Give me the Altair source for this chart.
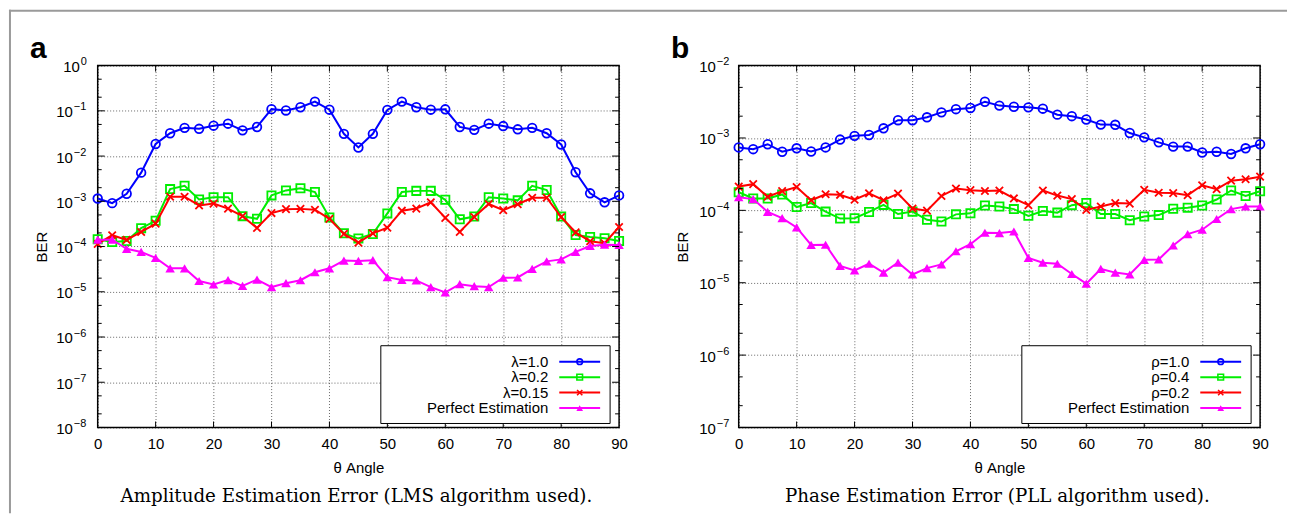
import altair as alt
import pandas as pd

# ---------------- data ----------------
angles = [0, 2.5, 5, 7.5, 10, 12.5, 15, 17.5, 20, 22.5, 25, 27.5, 30, 32.5, 35, 37.5,
          40, 42.5, 45, 47.5, 50, 52.5, 55, 57.5, 60, 62.5, 65, 67.5, 70, 72.5, 75, 77.5,
          80, 82.5, 85, 87.5, 90]

# panel a : amplitude estimation error
lam_10 = [1.15e-3, 9.1e-4, 1.47e-3, 4.3e-3, 1.85e-2, 3.2e-2, 4.2e-2, 4.0e-2, 4.7e-2, 5.2e-2,
          3.7e-2, 4.4e-2, 1.09e-1, 1.02e-1, 1.2e-1, 1.6e-1, 1.06e-1, 3.1e-2, 1.55e-2, 3.1e-2,
          1.05e-1, 1.6e-1, 1.2e-1, 1.06e-1, 1.08e-1, 4.4e-2, 3.8e-2, 5.2e-2, 4.6e-2, 3.9e-2,
          4.2e-2, 3.2e-2, 1.8e-2, 4.4e-3, 1.5e-3, 9.5e-4, 1.35e-3]
lam_02 = [1.45e-4, 1.26e-4, 1.33e-4, 2.55e-4, 3.7e-4, 1.86e-3, 2.2e-3, 1.1e-3, 1.23e-3, 1.23e-3,
          4.7e-4, 4.1e-4, 1.35e-3, 1.74e-3, 1.95e-3, 1.6e-3, 4.4e-4, 1.96e-4, 1.5e-4, 1.9e-4,
          5.4e-4, 1.6e-3, 1.7e-3, 1.7e-3, 1.08e-3, 4.0e-4, 4.6e-4, 1.23e-3, 1.15e-3, 1.05e-3,
          2.2e-3, 1.77e-3, 4.6e-4, 1.8e-4, 1.62e-4, 1.52e-4, 1.33e-4]
lam_015 = [1.14e-4, 1.78e-4, 1.4e-4, 2.1e-4, 3.2e-4, 1.26e-3, 1.26e-3, 8.1e-4, 8.9e-4, 6.9e-4,
           4.7e-4, 2.57e-4, 5.5e-4, 6.7e-4, 6.8e-4, 6.5e-4, 4.1e-4, 1.9e-4, 1.22e-4, 1.95e-4,
           2.6e-4, 6.2e-4, 6.9e-4, 9.5e-4, 4.3e-4, 2.1e-4, 4.5e-4, 8.7e-4, 6.4e-4, 8.6e-4,
           1.2e-3, 1.2e-3, 4.5e-4, 2.05e-4, 1.31e-4, 1.18e-4, 2.7e-4]
perfect_a = [1.42e-4, 1.42e-4, 8.9e-5, 7.6e-5, 5.6e-5, 3.3e-5, 3.3e-5, 1.73e-5, 1.45e-5, 1.81e-5,
             1.35e-5, 1.86e-5, 1.27e-5, 1.55e-5, 1.8e-5, 2.7e-5, 3.3e-5, 4.9e-5, 4.8e-5, 5.0e-5,
             2.1e-5, 1.83e-5, 1.78e-5, 1.27e-5, 9.7e-6, 1.47e-5, 1.33e-5, 1.27e-5, 2.04e-5, 2.07e-5,
             3.2e-5, 4.7e-5, 5.2e-5, 7.6e-5, 1.03e-4, 1.1e-4, 1.08e-4]

# panel b : phase estimation error
rho_10 = [7.4e-4, 7.0e-4, 8.2e-4, 6.45e-4, 7.2e-4, 6.5e-4, 7.4e-4, 9.5e-4, 1.07e-3, 1.1e-3,
          1.36e-3, 1.76e-3, 1.76e-3, 1.93e-3, 2.26e-3, 2.5e-3, 2.6e-3, 3.17e-3, 2.8e-3, 2.7e-3,
          2.65e-3, 2.54e-3, 2.1e-3, 2.0e-3, 1.8e-3, 1.53e-3, 1.52e-3, 1.17e-3, 1.02e-3, 8.7e-4,
          7.6e-4, 7.6e-4, 6.3e-4, 6.45e-4, 6.0e-4, 7.2e-4, 8.2e-4]
rho_04 = [1.78e-4, 1.46e-4, 1.46e-4, 1.66e-4, 1.11e-4, 1.26e-4, 9.6e-5, 7.7e-5, 7.8e-5, 9.5e-5,
          1.19e-4, 8.9e-5, 9.6e-5, 7.4e-5, 7.0e-5, 8.8e-5, 9.1e-5, 1.17e-4, 1.13e-4, 1.04e-4,
          8.4e-5, 9.8e-5, 9.3e-5, 1.18e-4, 1.26e-4, 8.9e-5, 8.9e-5, 7.3e-5, 8.2e-5, 8.6e-5,
          1.05e-4, 1.09e-4, 1.17e-4, 1.41e-4, 1.88e-4, 1.58e-4, 1.84e-4]
rho_02 = [2.13e-4, 2.3e-4, 1.54e-4, 1.84e-4, 2.1e-4, 1.38e-4, 1.67e-4, 1.64e-4, 1.4e-4, 1.72e-4,
          1.38e-4, 1.7e-4, 1.06e-4, 9.9e-5, 1.58e-4, 2.0e-4, 1.9e-4, 1.85e-4, 1.88e-4, 1.46e-4,
          1.18e-4, 1.88e-4, 1.6e-4, 1.43e-4, 1.01e-4, 1.13e-4, 1.26e-4, 1.24e-4, 1.92e-4, 1.75e-4,
          1.73e-4, 1.62e-4, 2.22e-4, 1.96e-4, 2.57e-4, 2.69e-4, 2.92e-4]
perfect_b = [1.52e-4, 1.43e-4, 9.5e-5, 7.8e-5, 5.8e-5, 3.33e-5, 3.35e-5, 1.71e-5, 1.48e-5, 1.83e-5,
             1.38e-5, 1.9e-5, 1.3e-5, 1.59e-5, 1.79e-5, 2.72e-5, 3.4e-5, 4.9e-5, 4.85e-5, 5.1e-5,
             2.2e-5, 1.89e-5, 1.83e-5, 1.32e-5, 9.7e-6, 1.55e-5, 1.38e-5, 1.3e-5, 2.07e-5, 2.1e-5,
             3.27e-5, 4.7e-5, 5.4e-5, 7.6e-5, 1.04e-4, 1.13e-4, 1.13e-4]

names_a = ["λ=1.0", "λ=0.2", "λ=0.15", "Perfect Estimation"]
names_b = ["ρ=1.0", "ρ=0.4", "ρ=0.2", "Perfect Estimation"]

x_ticks = [0, 10, 20, 30, 40, 50, 60, 70, 80, 90]
y_ticks_a = [1e-8, 1e-7, 1e-6, 1e-5, 1e-4, 1e-3, 1e-2, 1e-1, 1e0]
y_exp_a = ["−8", "−7", "−6", "−5", "−4", "−3", "−2", "−1", "0"]
y_ticks_b = [1e-7, 1e-6, 1e-5, 1e-4, 1e-3, 1e-2]
y_exp_b = ["−7", "−6", "−5", "−4", "−3", "−2"]
minor_mult = [2, 5]

caption_a = "Amplitude Estimation Error (LMS algorithm used)."
caption_b = "Phase Estimation Error (PLL algorithm used)."

# ---------------- styles ----------------
colors = ["#0000ff", "#00ee00", "#ff0000", "#ff00ff"]
shapes = ["circle", "square", "M-1,-1L1,1M-1,1L1,-1", "triangle-up"]
filled = [False, False, False, True]
sizes = [75, 68, 55, 90]
leg_sizes = [32, 32, 28, 45]

FONT = "Liberation Sans"
SERIF = "DejaVu Serif"
W, H = 523, 363
LEG_ROWS = [297, 312.5, 328, 343.5]

one = pd.DataFrame({"k": [0]})


def panel(series, names, yticks, yexp, letter, caption, frame, exp_x):
    ymin, ymax = yticks[0], yticks[-1]
    ysc = alt.Scale(type="log", domain=[ymin, ymax], nice=False)
    xsc = alt.Scale(domain=[0, 90], nice=False)

    xaxis = alt.Axis(values=x_ticks, grid=True, labelPadding=9, title="θ Angle",
                     titlePadding=9)
    yaxis = alt.Axis(values=yticks, labels=False, grid=True, title="BER", titlePadding=48)

    def X(f):
        return alt.X(f, scale=xsc, axis=xaxis)

    def Y(f):
        return alt.Y(f, scale=ysc, axis=yaxis)

    layers = []
    for i, vals in enumerate(series):
        df = pd.DataFrame({"angle": angles, "ber": vals})
        layers.append(alt.Chart(df).mark_line(color=colors[i], strokeWidth=2).encode(
            x=X("angle:Q"), y=Y("ber:Q")))
        layers.append(alt.Chart(df).mark_point(shape=shapes[i], filled=filled[i], color=colors[i],
                                               size=sizes[i], strokeWidth=1.8, opacity=1).encode(
            x=X("angle:Q"), y=Y("ber:Q")))

    # inward tick marks (gnuplot style)
    major = pd.DataFrame({"v": yticks})
    minor = pd.DataFrame({"v": [m * t for t in yticks[:-1] for m in minor_mult]})
    xt = pd.DataFrame({"v": x_ticks[1:-1]})
    for dfv, ln in ((major, 7), (minor, 4)):
        layers.append(alt.Chart(dfv).mark_rule(color="black", strokeWidth=1).encode(
            y=Y("v:Q"), x=alt.value(0), x2=alt.value(ln)))
        layers.append(alt.Chart(dfv).mark_rule(color="black", strokeWidth=1).encode(
            y=Y("v:Q"), x=alt.value(W), x2=alt.value(W - ln)))
    layers.append(alt.Chart(xt).mark_rule(color="black", strokeWidth=1).encode(
        x=X("v:Q"), y=alt.value(H), y2=alt.value(H - 6)))
    layers.append(alt.Chart(xt).mark_rule(color="black", strokeWidth=1).encode(
        x=X("v:Q"), y=alt.value(0), y2=alt.value(6)))

    # y tick labels: "10" with a raised exponent
    lab = pd.DataFrame({"v": yticks, "e": yexp})
    neg = lab[lab.e != "0"]
    zero = lab[lab.e == "0"]
    for part, px in ((neg, exp_x), (zero, exp_x + 7)):
        if len(part) == 0:
            continue
        layers.append(alt.Chart(part).mark_text(
            align="right", baseline="middle", font=FONT, fontSize=15, color="black", dy=1.5
        ).encode(y=Y("v:Q"), x=alt.value(px - 1), text=alt.value("10")))
        layers.append(alt.Chart(part).mark_text(
            align="left", baseline="middle", font=FONT, fontSize=11, color="black", dy=-3.5
        ).encode(y=Y("v:Q"), x=alt.value(px), text="e:N"))

    # legend box (gnuplot style: label, then line sample)
    layers.append(alt.Chart(one).mark_rect(fill="white", stroke="black", strokeWidth=1).encode(
        x=alt.value(284), x2=alt.value(514), y=alt.value(281), y2=alt.value(359)))
    for i in range(4):
        sub = pd.DataFrame({"name": [names[i]]})
        ry = LEG_ROWS[i]
        layers.append(alt.Chart(sub).mark_text(align="right", baseline="middle", font=FONT,
                                               fontSize=15, color="black").encode(
            x=alt.value(452), y=alt.value(ry), text="name:N"))
        layers.append(alt.Chart(sub).mark_rule(color=colors[i], strokeWidth=2).encode(
            x=alt.value(463), x2=alt.value(504), y=alt.value(ry)))
        layers.append(alt.Chart(sub).mark_point(shape=shapes[i], filled=filled[i], color=colors[i],
                                                size=leg_sizes[i], strokeWidth=1.6, opacity=1).encode(
            x=alt.value(483.5), y=alt.value(ry)))

    # panel letter and caption
    layers.append(alt.Chart(pd.DataFrame({"t": [letter]})).mark_text(
        align="left", baseline="alphabetic", font=FONT, fontSize=30, fontWeight="bold",
        color="black").encode(x=alt.value(-68), y=alt.value(-8), text="t:N"))
    layers.append(alt.Chart(pd.DataFrame({"t": [caption]})).mark_text(
        align="center", baseline="alphabetic", font=SERIF, fontSize=18.3,
        color="black").encode(x=alt.value(W / 2 - 2), y=alt.value(438), text="t:N"))

    if frame:
        fc = "#9a9a9a"
        layers.append(alt.Chart(one).mark_rule(color=fc, strokeWidth=2).encode(
            x=alt.value(-88), y=alt.value(-56), y2=alt.value(449)))
        layers.append(alt.Chart(one).mark_rule(color=fc, strokeWidth=2).encode(
            x=alt.value(-89), x2=alt.value(1193), y=alt.value(-55)))

    return alt.layer(*layers).properties(width=W, height=H)


left = panel([lam_10, lam_02, lam_015, perfect_a], names_a, y_ticks_a, y_exp_a,
             "a", caption_a, True, -24)
right = panel([rho_10, rho_04, rho_02, perfect_b], names_b, y_ticks_b, y_exp_b,
              "b", caption_b, False, -22)

chart = alt.hconcat(left, right, spacing=120, bounds="flush").properties(
    padding={"left": 7, "top": 7, "right": 0, "bottom": 0},
    background="white",
).configure_view(
    stroke="black", strokeWidth=1.5
).configure_axis(
    labelFont=FONT, labelFontSize=15, labelColor="black", labelFlush=False,
    titleFont=FONT, titleFontSize=15, titleFontWeight="normal", titleColor="black",
    gridDash=[1, 2], gridColor="#000", gridOpacity=0.6, gridWidth=1,
    ticks=False, domain=False,
)

chart.save("out.html", embed_options={"renderer": "svg", "actions": False})
